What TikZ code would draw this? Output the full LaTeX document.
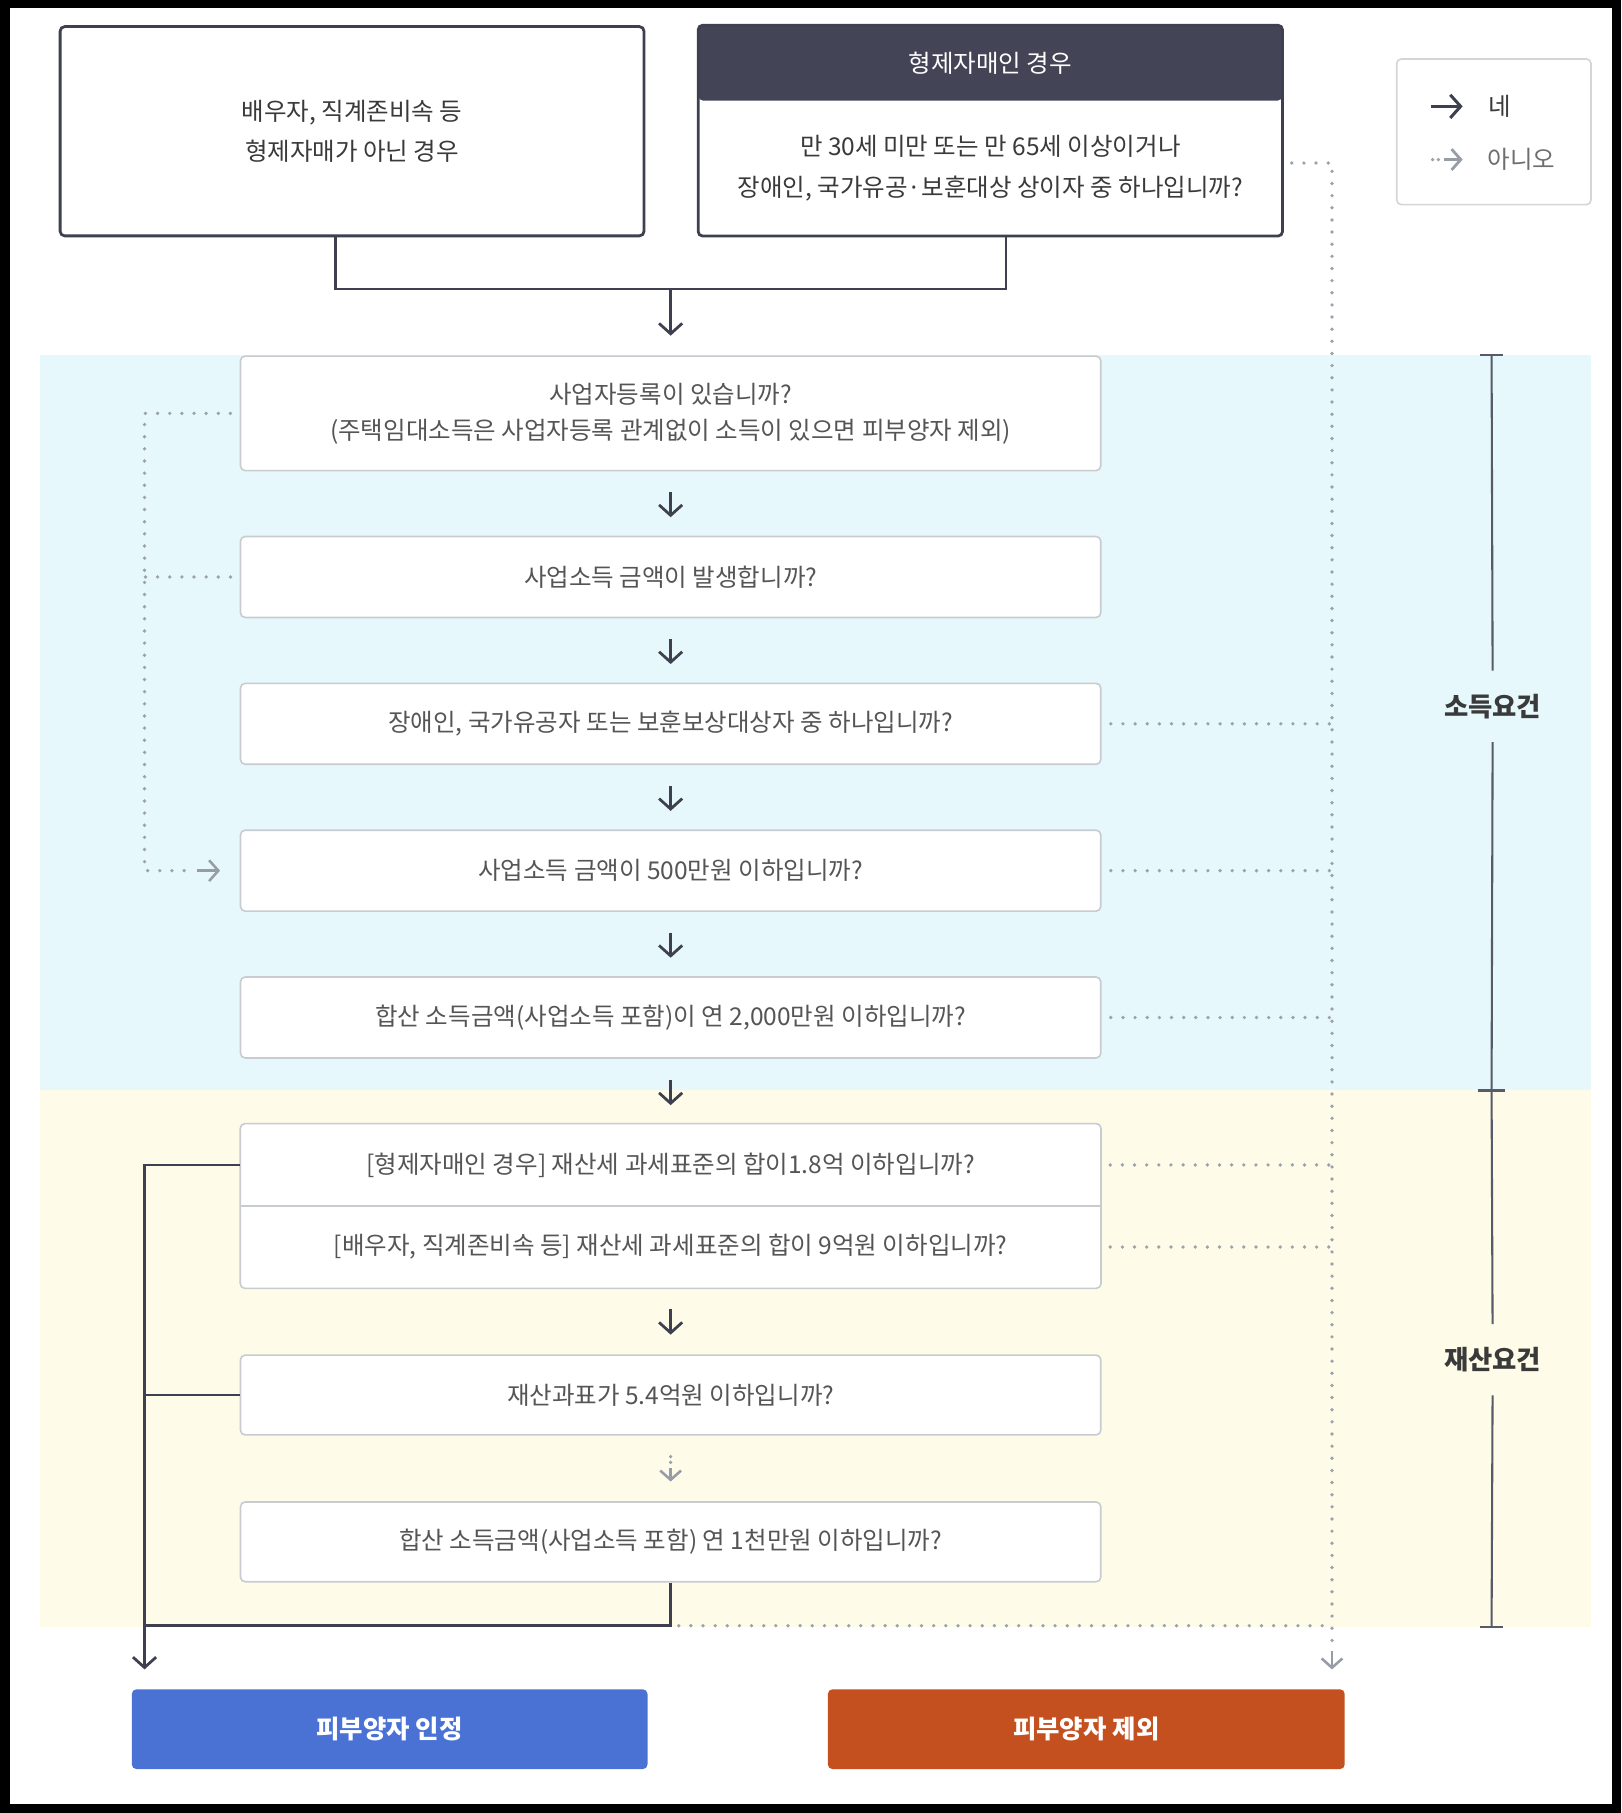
\documentclass[tikz,border=0pt]{standalone}
\usepackage{fontspec}
\setmainfont{Noto Sans CJK KR}
\usetikzlibrary{arrows.meta}
\definecolor{darkline}{HTML}{3E4050}
\definecolor{header}{HTML}{434456}
\definecolor{qborder}{HTML}{C8CCD1}
\definecolor{qtext}{HTML}{555555}
\definecolor{toptext}{HTML}{3A3A3A}
\definecolor{cyanband}{HTML}{E6F8FC}
\definecolor{yellowband}{HTML}{FEFCE8}
\definecolor{okblue}{HTML}{4A72D5}
\definecolor{noorange}{HTML}{C4501F}
\definecolor{dotgray}{HTML}{9CA2AB}
\definecolor{arrgray}{HTML}{979CA6}
\definecolor{brk}{HTML}{575A68}
\definecolor{lgborder}{HTML}{D3D5D9}
\begin{document}
\begin{tikzpicture}[x=1pt,y=-1pt,
  every node/.style={inner sep=0pt, font=\fontsize{21.2}{31}\selectfont},
  topbox/.style={draw=darkline, line width=2.4pt, rounded corners=4pt, fill=white, text=toptext, align=center, font=\fontsize{21.2}{35}\selectfont},
  qbox/.style={draw=qborder, line width=1.4pt, fill=white, rounded corners=4pt, minimum width=744pt, text=qtext, align=center},
  qpart/.style={minimum width=744pt, minimum height=71pt, text=qtext, align=center},
  btn/.style={rounded corners=4pt, minimum width=446pt, minimum height=69pt, text=white, font=\fontsize{22}{26}\selectfont\bfseries},
  seclabel/.style={text=toptext, inner xsep=0pt, inner ysep=20pt, font=\fontsize{22.8}{26}\selectfont\bfseries},
  conn/.style={draw=darkline, line width=2.4pt},
  yesarrow/.style={draw=darkline, line width=2.4pt, -{Straight Barb[length=9pt,width=20pt]}},
  noarr/.style={draw=arrgray, line width=2.2pt, -{Straight Barb[length=8pt,width=18pt]}},
  dotline/.style={draw=dotgray, line width=3.2pt, line cap=round, dash pattern=on 0pt off 10.5pt},
  bracket/.style={draw=brk, line width=1.8pt}
]
% frame
\fill[black] (0,0) rectangle (1402,1568);
\fill[white] (9,7) rectangle (1394,1560);
\useasboundingbox (0,0) rectangle (1402,1568);
% bands
\fill[cyanband] (35,307) rectangle (1376,943);
\fill[yellowband] (35,943) rectangle (1376,1407);

% top boxes
\node[topbox, minimum width=505pt, minimum height=181pt] (a) at (304.5,113.5) {배우자, 직계존비속 등\\형제자매가 아닌 경우};
\node[fill=header, rounded corners=4pt, minimum width=505pt, minimum height=65pt, text=white] (bh) at (856.5,54.5) {형제자매인 경우};
\node[fill=white, minimum width=505pt, minimum height=117pt, text=toptext, align=center, font=\fontsize{21.2}{35}\selectfont] (bb) at (856.5,145.5) {만 30세 미만 또는 만 65세 이상이거나\\장애인, 국가유공·보훈대상 상이자 중 하나입니까?};
\draw[darkline, line width=2.4pt, rounded corners=4pt] (bh.north west) rectangle (bb.south east);

% legend
\node[draw=lgborder, line width=1.4pt, rounded corners=4pt, fill=white, minimum width=168pt, minimum height=126pt] (lg) at (1292,114) {};
\draw[yesarrow, line width=2.6pt] (1238,92) -- (1265,92);
\node[text=toptext] (ly) at (1297,92) {네};
\draw[dotline, dash pattern=on 0pt off 5pt] (1239,138) -- (1245,138);
\draw[noarr, line width=2.4pt] (1249,138) -- (1265,138);
\node[text=qtext!85] (ln) at (1316,138) {아니오};

% question boxes
\node[qbox, minimum height=99pt] (q1) at (580,357.5) {사업자등록이 있습니까?\\(주택임대소득은 사업자등록 관계없이 소득이 있으면 피부양자 제외)};
\node[qbox, minimum height=70pt] (q2) at (580,499) {사업소득 금액이 발생합니까?};
\node[qbox, minimum height=70pt] (q3) at (580,626) {장애인, 국가유공자 또는 보훈보상대상자 중 하나입니까?};
\node[qbox, minimum height=70pt] (q4) at (580,753) {사업소득 금액이 500만원 이하입니까?};
\node[qbox, minimum height=70pt] (q5) at (580,880) {합산 소득금액(사업소득 포함)이 연 2,000만원 이하입니까?};
\fill[white] (208,972) rectangle (952,1114);
\node[qpart] (q6a) at (580,1007.5) {[형제자매인 경우] 재산세 과세표준의 합이1.8억 이하입니까?};
\node[qpart] (q6b) at (580,1078.5) {[배우자, 직계존비속 등] 재산세 과세표준의 합이 9억원 이하입니까?};
\draw[qborder, line width=1.4pt, rounded corners=4pt] (q6a.north west) rectangle (q6b.south east);
\draw[qborder, line width=1.4pt] (q6a.south west) -- (q6a.south east);
\node[qbox, minimum height=69pt] (q7) at (580,1206.5) {재산과표가 5.4억원 이하입니까?};
\node[qbox, minimum height=69pt] (q8) at (580,1333.5) {합산 소득금액(사업소득 포함) 연 1천만원 이하입니까?};

% result buttons
\node[btn, fill=okblue] (ok) at (337,1495.5) {피부양자 인정};
\node[btn, fill=noorange, minimum width=447pt] (no) at (939.5,1495.5) {피부양자 제외};

% coordinates
\coordinate (m) at (580,250);
\coordinate (lx) at (125,0);
\coordinate (rv1) at (1152,141);
\coordinate (rv2) at (1152,1428);
\coordinate (jb) at (580,1406);

% top merge
\draw[conn] ([xshift=-14.5pt]a.south) |- (m) -| ([xshift=13.5pt]bb.south);
\draw[yesarrow, shorten >=17pt] (m) -- (q1.north);

% yes arrows down
\draw[yesarrow, shorten <=18pt, shorten >=16pt] (q1.south) -- (q2.north);
\draw[yesarrow, shorten <=18pt, shorten >=16pt] (q2.south) -- (q3.north);
\draw[yesarrow, shorten <=18pt, shorten >=16pt] (q3.south) -- (q4.north);
\draw[yesarrow, shorten <=18pt, shorten >=16pt] (q4.south) -- (q5.north);
\draw[yesarrow, shorten <=18pt, shorten >=16pt] (q5.south) -- (q6a.north);
\draw[yesarrow, shorten <=18pt, shorten >=17pt] (q6b.south) -- (q7.north);
% dotted arrow q7 -> q8
\draw[dotline, dash pattern=on 0pt off 5pt] ([yshift=-18pt]q7.south) -- ([yshift=-25pt]q7.south);
\draw[noarr] ([yshift=-28pt]q7.south) -- ([yshift=17pt]q8.north);

% right dotted "no" line
\draw[dotline, shorten <=8pt] ([yshift=4.5pt]bb.east) -- (rv1) -- (rv2);
\draw[noarr, shorten >=17pt] (rv2) -- (rv2 |- no.north);
\draw[dotline, shorten <=8pt] (q3.east) -- (q3.east -| rv1);
\draw[dotline, shorten <=8pt] (q4.east) -- (q4.east -| rv1);
\draw[dotline, shorten <=8pt] (q5.east) -- (q5.east -| rv1);
\draw[dotline, shorten <=8pt] (q6a.east) -- (q6a.east -| rv1);
\draw[dotline, shorten <=8pt] (q6b.east) -- (q6b.east -| rv1);
\draw[dotline, shorten <=7pt] (jb) -- (jb -| rv1);

% left dotted "no" line
\draw[dotline, shorten <=8pt] (q1.west) -- (q1.west -| lx) -- (q4.west -| lx) -- ([xshift=-40pt]q4.west);
\draw[dotline, shorten <=8pt] (q2.west) -- (q2.west -| lx);
\draw[noarr, shorten >=17pt] ([xshift=-37pt]q4.west) -- (q4.west);

% left solid "yes" line
\draw[yesarrow, shorten >=17pt] (q6a.west) -| (ok.north -| lx);
\draw[conn] (q7.west) -- (q7.west -| lx);
\draw[conn] (q8.south) |- (jb -| lx);

% section brackets
\coordinate (b1) at (1290,307);
\coordinate (b2) at (1290,943);
\coordinate (b3) at (1290,1407);
\node[seclabel] (s1) at (1291,611) {소득요건};
\node[seclabel] (s2) at (1291,1176) {재산요건};
\draw[bracket] (b1) -- (s1);
\draw[bracket] (s1) -- (b2);
\draw[bracket] (b2) -- (s2);
\draw[bracket] (s2) -- (b3);
\draw[bracket] ([xshift=-10pt]b1) -- ([xshift=10pt]b1);
\draw[bracket, line width=2.6pt] ([xshift=-12pt]b2) -- ([xshift=12pt]b2);
\draw[bracket] ([xshift=-10pt]b3) -- ([xshift=10pt]b3);
\end{tikzpicture}
\end{document}
